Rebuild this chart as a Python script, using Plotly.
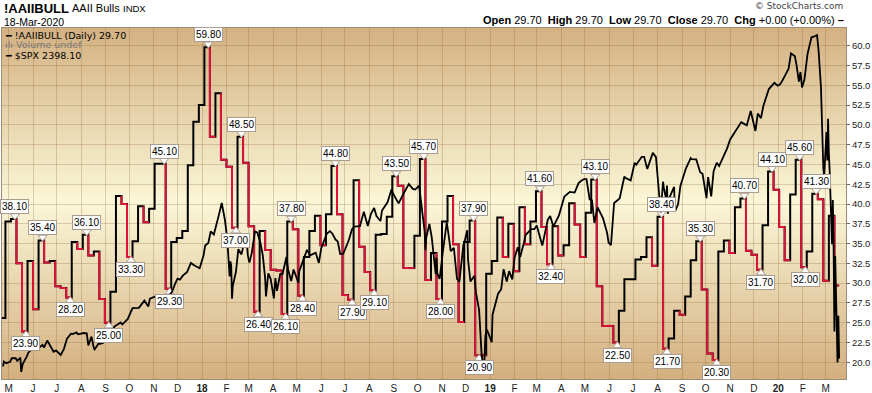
import plotly.graph_objects as go
import pandas as pd
import numpy as np

# ---------------- data ----------------
aaii_start = "2017-04-20"          # weekly values, one per week
aaii_end = "2020-03-18"
aaii_vals = [
    25.6, 37.8, 38.1, 32.5, 23.9, 32.8, 26.7, 35.4, 32.6, 32.8, 29.6, 29.4, 28.2,
    35.2, 34.3, 36.1, 33.5, 34.0, 28.0, 25.0, 28.9, 41.0, 40.0, 33.3, 35.3, 39.7,
    37.7, 39.4, 45.1, 45.1, 29.3, 35.2, 35.7, 36.6, 44.9, 50.4, 52.5, 59.8, 48.5,
    54.0, 45.6, 44.7, 37.0, 48.5, 45.2, 37.2, 26.4, 36.6, 34.2, 31.7, 31.6, 26.1,
    37.8, 36.8, 28.4, 33.3, 36.6, 38.5, 34.8, 38.7, 44.8, 38.7, 28.5, 27.9, 43.0,
    34.6, 31.4, 29.1, 36.1, 36.2, 38.4, 43.5, 42.3, 31.9, 31.9, 36.0, 45.7, 30.4,
    33.8, 28.0, 37.8, 41.0, 34.9, 25.1, 35.2, 37.9, 20.9, 20.9, 31.2, 32.8, 38.3,
    33.3, 37.5, 31.5, 39.6, 34.9, 37.8, 41.6, 37.1, 32.4, 37.2, 33.5, 34.8, 40.1,
    37.4, 33.3, 38.9, 43.1, 29.6, 24.6, 24.6, 22.5, 26.5, 30.5, 30.5, 33.0, 33.3,
    35.8, 32.2, 38.4, 21.7, 23.0, 26.5, 26.0, 28.3, 32.9, 35.3, 29.2, 21.1, 20.3,
    34.0, 35.4, 33.8, 39.6, 40.7, 34.1, 33.6, 31.7, 37.3, 44.1, 41.8, 37.1, 32.9,
    41.2, 45.6, 32.0, 34.0, 41.3, 40.6, 30.3, 38.5, 29.7,
]
# positions (in aaii_vals) of labelled highs and lows
peak_idx = [2, 7, 15, 29, 37, 43, 52, 60, 71, 76, 85, 97, 107, 119, 126, 134, 139, 144, 147]
trough_idx = [4, 12, 19, 23, 30, 42, 46, 51, 54, 63, 67, 79, 86, 99, 111, 120, 129, 137, 145]

spx_dates = [
    "2017-04-24", "2017-04-25", "2017-04-28", "2017-05-03", "2017-05-05", "2017-05-10", "2017-05-12",
    "2017-05-16", "2017-05-17", "2017-05-19", "2017-05-24", "2017-05-26", "2017-06-01", "2017-06-02",
    "2017-06-06", "2017-06-09", "2017-06-13", "2017-06-15", "2017-06-19", "2017-06-23", "2017-06-27",
    "2017-06-30", "2017-07-06", "2017-07-10", "2017-07-14", "2017-07-19", "2017-07-21", "2017-07-26",
    "2017-07-28", "2017-08-04", "2017-08-08", "2017-08-10", "2017-08-14", "2017-08-17", "2017-08-18",
    "2017-08-23", "2017-08-25", "2017-08-29", "2017-09-01", "2017-09-05", "2017-09-08", "2017-09-12",
    "2017-09-15", "2017-09-20", "2017-09-22", "2017-09-29", "2017-10-05", "2017-10-13", "2017-10-20",
    "2017-10-25", "2017-10-27", "2017-11-03", "2017-11-09", "2017-11-15", "2017-11-17", "2017-11-24",
    "2017-11-28", "2017-12-01", "2017-12-04", "2017-12-08", "2017-12-13", "2017-12-15", "2017-12-18",
    "2017-12-22", "2017-12-29",
    "2018-01-03", "2018-01-05", "2018-01-09", "2018-01-12", "2018-01-16", "2018-01-19", "2018-01-22",
    "2018-01-26", "2018-01-30", "2018-02-02", "2018-02-05", "2018-02-06", "2018-02-07", "2018-02-08",
    "2018-02-09", "2018-02-13", "2018-02-16", "2018-02-20", "2018-02-23", "2018-02-26", "2018-02-28",
    "2018-03-02", "2018-03-05", "2018-03-09", "2018-03-12", "2018-03-16", "2018-03-19", "2018-03-22",
    "2018-03-23", "2018-03-26", "2018-03-29", "2018-04-02", "2018-04-04", "2018-04-06", "2018-04-10",
    "2018-04-13", "2018-04-18", "2018-04-20", "2018-04-24", "2018-04-27", "2018-05-03", "2018-05-04",
    "2018-05-09", "2018-05-14", "2018-05-18", "2018-05-25", "2018-05-29", "2018-06-01", "2018-06-08",
    "2018-06-12", "2018-06-15", "2018-06-19", "2018-06-22", "2018-06-25", "2018-06-29", "2018-07-06",
    "2018-07-10", "2018-07-13", "2018-07-20", "2018-07-25", "2018-07-30", "2018-08-03", "2018-08-07",
    "2018-08-10", "2018-08-15", "2018-08-17", "2018-08-24", "2018-08-29", "2018-08-31", "2018-09-07",
    "2018-09-14", "2018-09-20", "2018-09-25", "2018-09-28", "2018-10-03", "2018-10-05", "2018-10-10",
    "2018-10-11", "2018-10-12", "2018-10-16", "2018-10-19", "2018-10-24", "2018-10-25", "2018-10-26",
    "2018-10-29", "2018-11-02", "2018-11-07", "2018-11-09", "2018-11-12", "2018-11-16", "2018-11-20",
    "2018-11-23", "2018-11-28", "2018-11-30", "2018-12-03", "2018-12-04", "2018-12-07", "2018-12-12",
    "2018-12-14", "2018-12-18", "2018-12-20", "2018-12-21", "2018-12-24", "2018-12-26", "2018-12-28",
    "2019-01-03", "2019-01-04", "2019-01-08", "2019-01-11", "2019-01-15", "2019-01-18", "2019-01-22",
    "2019-01-25", "2019-01-29", "2019-02-01", "2019-02-05", "2019-02-08", "2019-02-13", "2019-02-15",
    "2019-02-22", "2019-02-26", "2019-03-01", "2019-03-08", "2019-03-15", "2019-03-18", "2019-03-22",
    "2019-03-26", "2019-03-29", "2019-04-05", "2019-04-12", "2019-04-18", "2019-04-23", "2019-04-26",
    "2019-04-30", "2019-05-03", "2019-05-07", "2019-05-10", "2019-05-13", "2019-05-17", "2019-05-24",
    "2019-05-29", "2019-05-31", "2019-06-03", "2019-06-07", "2019-06-14", "2019-06-20", "2019-06-21",
    "2019-06-28", "2019-07-03", "2019-07-05", "2019-07-12", "2019-07-15", "2019-07-19", "2019-07-26",
    "2019-07-30", "2019-08-02", "2019-08-05", "2019-08-08", "2019-08-09", "2019-08-12", "2019-08-13",
    "2019-08-14", "2019-08-16", "2019-08-22", "2019-08-23", "2019-08-27", "2019-08-30", "2019-09-06",
    "2019-09-12", "2019-09-13", "2019-09-19", "2019-09-24", "2019-09-27", "2019-10-02", "2019-10-04",
    "2019-10-08", "2019-10-11", "2019-10-15", "2019-10-18", "2019-10-25", "2019-10-28", "2019-11-01",
    "2019-11-08", "2019-11-15", "2019-11-22", "2019-11-27", "2019-12-03", "2019-12-06", "2019-12-10",
    "2019-12-13", "2019-12-20", "2019-12-27", "2019-12-31",
    "2020-01-03", "2020-01-06", "2020-01-10", "2020-01-14", "2020-01-17", "2020-01-22", "2020-01-24",
    "2020-01-27", "2020-01-29", "2020-01-31", "2020-02-03", "2020-02-07", "2020-02-12", "2020-02-14",
    "2020-02-19", "2020-02-21", "2020-02-24", "2020-02-25", "2020-02-26", "2020-02-27", "2020-02-28",
    "2020-03-02", "2020-03-03", "2020-03-04", "2020-03-05", "2020-03-06", "2020-03-09", "2020-03-10",
    "2020-03-11", "2020-03-12", "2020-03-13", "2020-03-16", "2020-03-17", "2020-03-18",
]
spx_vals = [
    2374, 2389, 2384, 2388, 2399, 2399, 2391, 2401, 2357, 2382, 2404, 2416, 2430, 2439,
    2429, 2432, 2440, 2432, 2453, 2438, 2419, 2423, 2409, 2427, 2459, 2474, 2473, 2478,
    2472, 2476, 2475, 2438, 2465, 2430, 2426, 2444, 2443, 2446, 2477, 2457, 2461, 2496,
    2500, 2508, 2502, 2519, 2552, 2553, 2575, 2557, 2581, 2588, 2585, 2565, 2579, 2602,
    2627, 2642, 2639, 2652, 2662, 2675, 2690, 2683, 2674,
    2713, 2743, 2751, 2786, 2777, 2810, 2833, 2873, 2822, 2762, 2649, 2695, 2682, 2581,
    2620, 2663, 2732, 2716, 2747, 2780, 2714, 2691, 2720, 2786, 2783, 2752, 2713, 2643,
    2588, 2658, 2641, 2582, 2644, 2605, 2656, 2656, 2708, 2670, 2635, 2670, 2630, 2663,
    2697, 2730, 2713, 2721, 2690, 2735, 2779, 2787, 2780, 2762, 2755, 2717, 2718, 2760,
    2793, 2801, 2802, 2846, 2803, 2840, 2858, 2833, 2818, 2850, 2875, 2914, 2902, 2872,
    2905, 2931, 2916, 2914, 2926, 2886, 2786, 2729, 2767, 2809, 2768, 2656, 2706, 2658,
    2641, 2723, 2814, 2781, 2726, 2736, 2641, 2633, 2744, 2760, 2790, 2700, 2633, 2651,
    2600, 2546, 2467, 2417, 2351, 2468, 2486,
    2448, 2532, 2574, 2596, 2610, 2671, 2633, 2665, 2640, 2707, 2738, 2708, 2754, 2776,
    2793, 2793, 2804, 2743, 2822, 2833, 2801, 2818, 2834, 2893, 2907, 2905, 2934, 2940,
    2946, 2946, 2884, 2881, 2812, 2860, 2826, 2783, 2752, 2744, 2873, 2887, 2954, 2950,
    2942, 2996, 2990, 3014, 3014, 2977, 3026, 3013, 2932, 2844, 2938, 2919, 2883, 2926,
    2840, 2889, 2922, 2847, 2869, 2926, 2979, 3010, 3007, 3006, 2967, 2962, 2888, 2952,
    2893, 2970, 2996, 2986, 3023, 3039, 3067, 3093, 3120, 3110, 3154, 3093, 3146, 3132,
    3169, 3221, 3240, 3231,
    3235, 3246, 3265, 3283, 3330, 3321, 3295, 3244, 3273, 3226, 3249, 3328, 3379, 3380,
    3386, 3338, 3226, 3128, 3116, 2979, 2954, 3090, 3003, 3130, 3024, 2972, 2747, 2882,
    2741, 2481, 2711, 2386, 2529, 2398.1,
]

# ---------------- layout geometry ----------------
W, H = 872, 393
L, R, T, B = 2, 846, 28, 379
Y_RANGE = [17.89, 62.236]
Y2_RANGE = [2335.6, 3407.4]
X_RANGE = ["2017-04-22 16:00", "2020-03-26 17:00"]
ppu = (B - T) / (Y_RANGE[1] - Y_RANGE[0])

RED = "#dc143c"
BOX = "#aa9c8e"


def pxx(x):
    return (x - L) / (R - L)


def pxy(y):
    return (B - y) / (B - T)


dates = list(pd.date_range(aaii_start, periods=len(aaii_vals), freq="7D"))
ends = dates[1:] + [pd.Timestamp(aaii_end)]

fig = go.Figure()

# SPX overlay
fig.add_trace(go.Scatter(x=pd.to_datetime(spx_dates), y=spx_vals, yaxis="y2", mode="lines",
                         line=dict(color="black", width=1.8), hoverinfo="skip"))

# AAII step line (black)
fig.add_trace(go.Scatter(x=dates + [pd.Timestamp(aaii_end)], y=aaii_vals + [aaii_vals[-1]],
                         mode="lines", line=dict(color="black", width=2, shape="hv"),
                         hoverinfo="skip"))

# red segments for declining weeks
rx, ry = [], []
down = False
for i in range(1, len(aaii_vals)):
    if aaii_vals[i] < aaii_vals[i - 1]:
        down = True
    elif aaii_vals[i] > aaii_vals[i - 1]:
        down = False
    if down:
        rx += [dates[i], dates[i], ends[i], None]
        ry += [aaii_vals[i - 1], aaii_vals[i], aaii_vals[i], None]
fig.add_trace(go.Scatter(x=rx, y=ry, mode="lines", line=dict(color=RED, width=2),
                         hoverinfo="skip", connectgaps=False))

# labels
ann = []
tri_x, tri_y, tri_s = [], [], []
for idx, kind in [(i, "p") for i in peak_idx] + [(i, "t") for i in trough_idx]:
    v = aaii_vals[idx]
    xd = dates[idx] + pd.Timedelta(days=5)
    if kind == "p":
        ann.append(dict(x=xd, y=v, text=f"{v:.2f}", showarrow=False, yanchor="bottom",
                        yshift=5, bgcolor="white", bordercolor=BOX, borderwidth=1, borderpad=1,
                        font=dict(family="Liberation Sans", size=10, color="black")))
        tri_x.append(xd); tri_y.append(v + 3.2 / ppu); tri_s.append("triangle-down")
    else:
        ann.append(dict(x=xd, y=v, text=f"{v:.2f}", showarrow=False, yanchor="top",
                        yshift=-5, bgcolor="white", bordercolor=BOX, borderwidth=1, borderpad=1,
                        font=dict(family="Liberation Sans", size=10, color="black")))
        tri_x.append(xd); tri_y.append(v - 3.2 / ppu); tri_s.append("triangle-up")
fig.add_trace(go.Scatter(x=tri_x, y=tri_y, mode="markers", hoverinfo="skip",
                         marker=dict(symbol=tri_s, size=8, color="white",
                                     line=dict(color=BOX, width=1))))

# background gradient bands
N = 70
c_edge_top = np.array([212, 177, 130])
c_mid = np.array([251, 247, 216])
c_edge_bot = np.array([211, 175, 127])
shapes = []
for i in range(N):
    t = (i + 0.5) / N  # 0 bottom -> 1 top
    if t < 0.5:
        c = c_edge_bot + (c_mid - c_edge_bot) * (t / 0.5)
    else:
        c = c_mid + (c_edge_top - c_mid) * ((t - 0.5) / 0.5)
    shapes.append(dict(type="rect", xref="paper", yref="paper", x0=0, x1=1,
                       y0=i / N, y1=(i + 1) / N + 0.002, layer="below", line=dict(width=0),
                       fillcolor=f"rgb({int(c[0])},{int(c[1])},{int(c[2])})"))

# header texts
F = "Liberation Sans"
ann += [
    dict(x=pxx(2), y=pxy(8), xref="paper", yref="paper", xanchor="left", yanchor="middle",
         text="<b>!AAIIBULL</b>", font=dict(family=F, size=13, color="black"), showarrow=False),
    dict(x=pxx(70), y=pxy(8.5), xref="paper", yref="paper", xanchor="left", yanchor="middle",
         text="AAII Bulls", font=dict(family=F, size=11, color="black"), showarrow=False),
    dict(x=pxx(121), y=pxy(8.5), xref="paper", yref="paper", xanchor="left", yanchor="middle",
         text="INDX", font=dict(family=F, size=9.5, color="black"), showarrow=False),
    dict(x=pxx(2), y=pxy(22), xref="paper", yref="paper", xanchor="left", yanchor="middle",
         text="18-Mar-2020", font=dict(family=F, size=10.5, color="black"), showarrow=False),
    dict(x=pxx(845), y=pxy(5.5), xref="paper", yref="paper", xanchor="right", yanchor="middle",
         text="© StockCharts.com", font=dict(family="DejaVu Sans", size=9, color="#444"),
         showarrow=False),
    dict(x=pxx(846), y=pxy(19.5), xref="paper", yref="paper", xanchor="right", yanchor="middle",
         text=(f"<b>Open</b> {aaii_vals[-1]:.2f}  <b>High</b> {aaii_vals[-1]:.2f}  "
               f"<b>Low</b> {aaii_vals[-1]:.2f}  <b>Close</b> {aaii_vals[-1]:.2f}  "
               f"<b>Chg</b> +0.00 (+0.00%) <b>–</b>"),
         font=dict(family=F, size=11, color="black"), showarrow=False),
    # in-plot legend
    dict(x=pxx(3), y=pxy(35), xref="paper", yref="paper", xanchor="left", yanchor="middle",
         text=f"<b>━</b> !AAIIBULL (Daily) {aaii_vals[-1]:.2f}",
         font=dict(family="DejaVu Sans", size=9.5, color="black"), showarrow=False),
    dict(x=pxx(3), y=pxy(45), xref="paper", yref="paper", xanchor="left", yanchor="middle",
         text="ılı Volume undef", font=dict(family="DejaVu Sans", size=9.5, color="#777"),
         showarrow=False),
    dict(x=pxx(3), y=pxy(55.5), xref="paper", yref="paper", xanchor="left", yanchor="middle",
         text=f"<b>━</b> $SPX {spx_vals[-1]:.2f}",
         font=dict(family="DejaVu Sans", size=9.5, color="black"), showarrow=False),
]

# axes ticks
month_starts = pd.date_range("2017-05-01", "2020-03-01", freq="MS")
letters = "JFMAMJJASOND"
month_text = [f"<b>{d.strftime('%y')}</b>" if d.month == 1 else letters[d.month - 1]
              for d in month_starts]
ytick_vals = np.arange(20, 60.01, 2.5)

GRID = "rgba(140,100,50,0.28)"
fig.update_layout(
    width=W, height=H, margin=dict(l=L, r=W - R, t=T, b=H - B, autoexpand=False),
    paper_bgcolor="white", plot_bgcolor="rgb(240,225,185)", showlegend=False,
    shapes=shapes, annotations=ann,
    xaxis=dict(type="date", range=X_RANGE, tickvals=list(month_starts), ticktext=month_text,
               showgrid=True, gridcolor=GRID, gridwidth=1, ticks="", zeroline=False,
               showline=True, linecolor="#9c8a78", mirror=True,
               tickfont=dict(family=F, size=10, color="#222")),
    yaxis=dict(range=Y_RANGE, side="right", tickvals=list(ytick_vals),
               ticktext=[f"{v:.1f}" for v in ytick_vals], showgrid=True, gridcolor=GRID,
               gridwidth=1, ticks="outside", ticklen=3, tickcolor="#666", zeroline=False,
               showline=True, linecolor="#9c8a78", mirror=True,
               tickfont=dict(family=F, size=9.5, color="#222")),
    yaxis2=dict(range=Y2_RANGE, overlaying="y", visible=False),
)

fig.write_html("out.html", config={"displayModeBar": False},
               post_script="document.body.style.margin='0px';"
                           "document.body.style.overflow='hidden';")
